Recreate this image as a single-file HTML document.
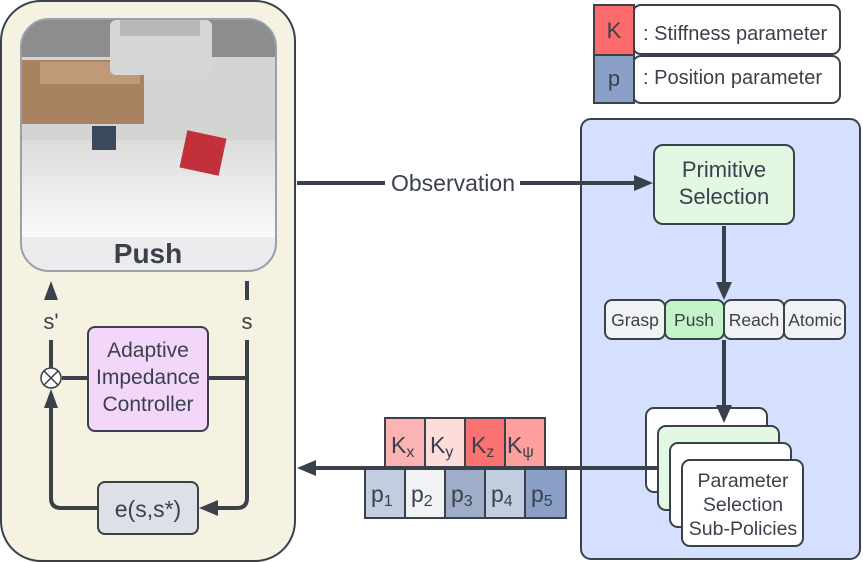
<!DOCTYPE html>
<html><head><meta charset="utf-8"><style>
html,body{margin:0;padding:0;background:#fff;}
svg{display:block;font-family:"Liberation Sans",sans-serif;}
</style></head><body>
<svg width="863" height="563" viewBox="0 0 863 563" xmlns="http://www.w3.org/2000/svg">
<defs>
<linearGradient id="tbl" x1="0" y1="0" x2="0" y2="1"><stop offset="0" stop-color="#dcdcdc"/><stop offset="1" stop-color="#fafafa"/></linearGradient>
<clipPath id="imgclip"><rect x="21" y="19" width="255" height="252" rx="28"/></clipPath>
</defs>
<rect x="1" y="1" width="294" height="560" rx="40" fill="#f6f2e1" stroke="#3a414b" stroke-width="2"/>
<g clip-path="url(#imgclip)">
<rect x="21" y="19" width="255" height="252" fill="#eaeaec"/>
<rect x="21" y="19" width="255" height="40" fill="#8d8d8d"/>
<rect x="21" y="57" width="255" height="84" fill="#d4d4d2"/>
<rect x="21" y="140" width="255" height="97" fill="url(#tbl)"/>
<rect x="22" y="60" width="122" height="64" fill="#a98262"/>
<rect x="40" y="62" width="100" height="22" fill="#c09a78"/>
<rect x="110" y="20" width="102" height="55" rx="6" fill="#d6d6d6"/>
<rect x="120" y="20" width="80" height="16" fill="#b8b8b8"/>
<rect x="92" y="126" width="24" height="24" fill="#3b4a5a"/>
<rect x="183" y="134" width="40" height="38" fill="#c2303a" transform="rotate(12 203 153)"/>
<rect x="21" y="237" width="255" height="34" fill="#ececee"/>
</g>
<rect x="21" y="19" width="255" height="252" rx="28" fill="none" stroke="#9aa0aa" stroke-width="2"/>
<text x="148" y="263" text-anchor="middle" font-size="28" font-weight="bold" fill="#3a414b">Push</text>
<rect x="581" y="119" width="279" height="440" rx="10" fill="#d4e0fd" stroke="#3a414b" stroke-width="2"/>
<rect x="633" y="5" width="207" height="49" rx="8" fill="#fff" stroke="#3a414b" stroke-width="2"/>
<rect x="633" y="56" width="207" height="47" rx="8" fill="#fff" stroke="#3a414b" stroke-width="2"/>
<rect x="594" y="5" width="40" height="50" fill="#fb6b6b" stroke="#3a414b" stroke-width="2"/>
<rect x="594" y="55" width="40" height="48" fill="#8aa0c6" stroke="#3a414b" stroke-width="2"/>
<text x="614" y="38" text-anchor="middle" font-size="22" fill="#3a414b">K</text>
<text x="614" y="86" text-anchor="middle" font-size="22" fill="#3a414b">p</text>
<text x="643" y="40" font-size="20" fill="#3a414b">: Stiffness parameter</text>
<text x="643" y="84" font-size="20" fill="#3a414b">: Position parameter</text>
<g stroke="#3a414b" stroke-width="4" fill="none">
<line x1="51" y1="300" x2="51" y2="290"/>
<line x1="51" y1="340" x2="51" y2="369"/>
<line x1="62" y1="378" x2="88" y2="378"/>
<line x1="208" y1="378" x2="247" y2="378"/>
<line x1="247" y1="281" x2="247" y2="300"/>
<path d="M247 340 V498 Q247 508 237 508 H215"/>
<path d="M98 508 H61 Q51 508 51 498 V405"/>
<line x1="297" y1="183" x2="385" y2="183"/>
<line x1="520" y1="183" x2="637" y2="183"/>
<line x1="724" y1="226" x2="724" y2="284"/>
</g>
<g fill="#3a414b">
<polygon points="44,300 58,300 51,281"/>
<polygon points="44,408 58,408 51,389"/>
<polygon points="218,500 218,516 199,508"/>
<polygon points="634,175 634,191 653,183"/>
<polygon points="716,282 732,282 724,300"/>
</g>
<circle cx="51" cy="378" r="10" fill="#fff" stroke="#3a414b" stroke-width="1.5"/>
<path d="M44 371 L58 385 M58 371 L44 385" stroke="#3a414b" stroke-width="1.5"/>
<text x="51" y="329" text-anchor="middle" font-size="22" fill="#3a414b">s'</text>
<text x="247" y="329" text-anchor="middle" font-size="22" fill="#3a414b">s</text>
<rect x="88" y="327" width="120" height="104" rx="7" fill="#f2d7fb" stroke="#3a414b" stroke-width="2"/>
<text text-anchor="middle" font-size="21" fill="#3a414b"><tspan x="148" y="357">Adaptive</tspan><tspan x="148" y="384">Impedance</tspan><tspan x="148" y="411">Controller</tspan></text>
<rect x="98" y="482" width="100" height="52" rx="7" fill="#dde0e6" stroke="#3a414b" stroke-width="2"/>
<text x="148" y="517" text-anchor="middle" font-size="23" fill="#3a414b">e(s,s*)</text>
<text x="453" y="191" text-anchor="middle" font-size="23" fill="#3a414b">Observation</text>
<rect x="654" y="145" width="140" height="79" rx="9" fill="#e2f8e2" stroke="#3a414b" stroke-width="2"/>
<text text-anchor="middle" font-size="22" fill="#3a414b"><tspan x="724" y="177">Primitive</tspan><tspan x="724" y="204">Selection</tspan></text>
<g stroke="#3a414b" stroke-width="2">
<rect x="605" y="300" width="60" height="39" rx="7" fill="#f1f2f4"/>
<rect x="665" y="300" width="59" height="39" rx="7" fill="#c2f4c8"/>
<rect x="724" y="300" width="60" height="39" rx="7" fill="#f1f2f4"/>
<rect x="784" y="300" width="61" height="39" rx="7" fill="#f1f2f4"/>
</g>
<g font-size="17.5" fill="#3a414b" text-anchor="middle">
<text x="635" y="326">Grasp</text><text x="694" y="326">Push</text><text x="754" y="326">Reach</text><text x="815" y="326">Atomic</text>
</g>
<rect x="646" y="408" width="121" height="84" rx="8" fill="#fff" stroke="#3a414b" stroke-width="2"/>
<line x1="724" y1="340" x2="724" y2="408" stroke="#3a414b" stroke-width="4"/>
<polygon points="716,405 732,405 724,423" fill="#3a414b"/>
<g stroke="#3a414b" stroke-width="2">
<rect x="658" y="426" width="121" height="84" rx="8" fill="#e2f8e2"/>
<rect x="670" y="443" width="121" height="84" rx="8" fill="#fff"/>
<rect x="682" y="460" width="121" height="86" rx="8" fill="#fff"/>
</g>
<text text-anchor="middle" font-size="19.5" fill="#3a414b"><tspan x="743" y="487">Parameter</tspan><tspan x="743" y="511">Selection</tspan><tspan x="743" y="535">Sub-Policies</tspan></text>
<g stroke="#3a414b" stroke-width="2">
<rect x="385" y="418" width="40" height="50" fill="#fcb3b3"/>
<rect x="425" y="418" width="40" height="50" fill="#fddcdc"/>
<rect x="465" y="418" width="40" height="50" fill="#fb7272"/>
<rect x="505" y="418" width="40" height="50" fill="#fd9f9f"/>
<rect x="365" y="469" width="40" height="49" fill="#c2cee0"/>
<rect x="405" y="469" width="40" height="49" fill="#f1f2f4"/>
<rect x="445" y="469" width="40" height="49" fill="#9fadc8"/>
<rect x="485" y="469" width="40" height="49" fill="#c2cee0"/>
<rect x="525" y="469" width="41" height="49" fill="#8aa0c6"/>
</g>
<line x1="313" y1="468" x2="658" y2="468" stroke="#3a414b" stroke-width="4"/>
<polygon points="316,460 316,476 297,468" fill="#3a414b"/>
<g fill="#3a414b" font-size="23">
<text x="391" y="453">K<tspan font-size="16" dy="4">x</tspan></text>
<text x="430" y="453">K<tspan font-size="16" dy="4">y</tspan></text>
<text x="471" y="453">K<tspan font-size="16" dy="4">z</tspan></text>
<text x="507" y="453">K<tspan font-size="16" dy="4">ψ</tspan></text>
<text x="371" y="502">p<tspan font-size="16" dy="4">1</tspan></text>
<text x="411" y="502">p<tspan font-size="16" dy="4">2</tspan></text>
<text x="451" y="502">p<tspan font-size="16" dy="4">3</tspan></text>
<text x="491" y="502">p<tspan font-size="16" dy="4">4</tspan></text>
<text x="531" y="502">p<tspan font-size="16" dy="4">5</tspan></text>
</g>
</svg>
</body></html>
